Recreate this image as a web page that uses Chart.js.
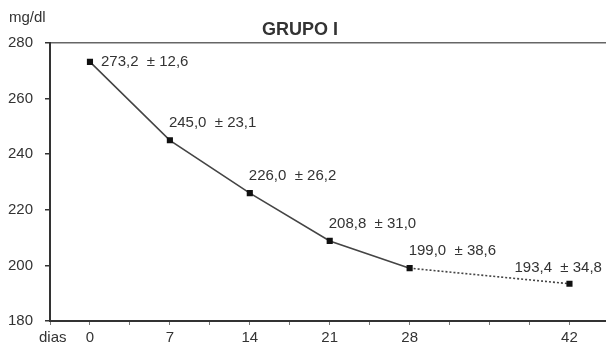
<!DOCTYPE html>
<html>
<head>
<meta charset="utf-8">
<script src="https://cdn.jsdelivr.net/npm/chart.js@4.4.1/dist/chart.umd.min.js"></script>
<style>
  html, body { margin: 0; padding: 0; background: #fff; overflow: hidden; }
  #wrap { width: 606px; height: 349px; position: relative; }
  canvas { display: block; }
</style>
</head>
<body>
<div id="wrap"><canvas id="grupoChart"></canvas></div>
<script>
// Grupo I: mean glycaemia (mg/dl) +/- SD over the days of follow-up
const days = [0, 7, 14, 21, 28, 42];
const meanValues = [273.2, 245.0, 226.0, 208.8, 199.0, 193.4];
const sdValues = [12.6, 23.1, 26.2, 31.0, 38.6, 34.8];
const xTickLabels = [0, 7, 14, 21, 28, 42];
const yTickValues = [180, 200, 220, 240, 260, 280];

const FONT = "'Liberation Sans', Arial, sans-serif";
const INK = '#333';

function fmt(v) {
  return v.toFixed(1).replace('.', ',');
}

// label offsets from each point: first sits to the right, last is pulled left
function labelOffset(i, n) {
  if (i === 0) return { dx: 11, dy: 0 };
  if (i === n - 1) return { dx: -55, dy: -16 };
  return { dx: -1, dy: -17 };
}

const annotations = {
  id: 'annotations',
  afterDatasetsDraw(chart) {
    const ctx = chart.ctx;
    const area = chart.chartArea;
    const meta = chart.getDatasetMeta(0);
    ctx.save();
    ctx.fillStyle = INK;
    ctx.textBaseline = 'middle';
    ctx.textAlign = 'left';
    ctx.font = '15px ' + FONT;
    meta.data.forEach((pt, i) => {
      const off = labelOffset(i, meta.data.length);
      ctx.fillText(fmt(meanValues[i]) + '  \u00b1 ' + fmt(sdValues[i]), pt.x + off.dx, pt.y + off.dy);
    });

    // unit, title and x axis caption
    ctx.font = '15px ' + FONT;
    ctx.fillText('mg/dl', 9, 18);
    ctx.fillText('dias', 39, area.bottom + 17);
    ctx.font = 'bold 18px ' + FONT;
    ctx.textAlign = 'center';
    ctx.fillText('GRUPO I', 300, 30);
    ctx.restore();
  }
};

new Chart(document.getElementById('grupoChart'), {
  type: 'line',
  data: {
    datasets: [{
      data: days.map((d, i) => ({ x: d, y: meanValues[i] })),
      borderColor: '#444',
      borderWidth: 1.6,
      pointStyle: 'rect',
      pointRadius: 3.2,
      pointBackgroundColor: '#111',
      pointBorderColor: '#111',
      tension: 0,
      segment: {
        borderDash: c => c.p1DataIndex === days.length - 1 ? [2, 2] : undefined
      }
    }]
  },
  options: {
    responsive: true,
    maintainAspectRatio: false,
    animation: false,
    layout: { autoPadding: false, padding: { top: 43, right: 0, left: 0, bottom: 0 } },
    plugins: {
      legend: { display: false },
      tooltip: { enabled: false },
      title: { display: false }
    },
    scales: {
      x: {
        type: 'linear',
        min: -3.5,
        max: 45.2,
        afterBuildTicks(scale) {
          const ticks = [];
          for (let v = -3.5; v <= 45; v += 3.5) ticks.push({ value: v });
          scale.ticks = ticks;
        },
        afterFit(scale) { scale.height = 28; },
        border: { color: INK, width: 2 },
        grid: {
          drawOnChartArea: false,
          drawTicks: true,
          tickLength: 4,
          tickColor: '#777'
        },
        ticks: {
          autoSkip: false,
          maxRotation: 0,
          padding: 4,
          color: INK,
          font: { family: FONT, size: 15 },
          callback: v => xTickLabels.includes(v) ? String(v) : ''
        }
      },
      y: {
        min: 180,
        max: 280,
        afterBuildTicks(scale) {
          scale.ticks = yTickValues.map(v => ({ value: v }));
        },
        afterFit(scale) { scale.width = 50; },
        border: { color: INK, width: 2 },
        grid: {
          color: c => c.tick && c.tick.value === 280 ? '#666' : 'rgba(0,0,0,0)',
          lineWidth: 1.5,
          drawTicks: true,
          tickLength: 5,
          tickColor: INK
        },
        ticks: {
          padding: 12,
          color: INK,
          font: { family: FONT, size: 15 }
        }
      }
    }
  },
  plugins: [annotations]
});
</script>
</body>
</html>
